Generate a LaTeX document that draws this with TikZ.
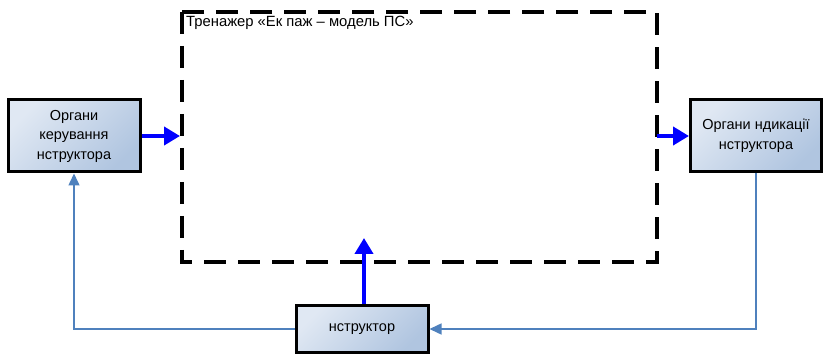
\documentclass[tikz,border=0pt]{standalone}
\usepackage{fontspec}
\setmainfont{Liberation Sans}
\usetikzlibrary{arrows.meta}
\definecolor{boxlight}{HTML}{E0E8F3}
\definecolor{boxdark}{HTML}{B0C5E0}
\definecolor{thinblue}{HTML}{4F81BD}
\tikzset{
  blk/.style={draw=black, line width=3pt, left color=boxlight, right color=boxdark, shading angle=45, align=center, font=\fontsize{14.5}{19.5}\selectfont, inner sep=0pt},
  bigarrow/.style={draw=blue, line width=4.5pt, -{Triangle[length=16pt,width=18pt]}},
  thinarrow/.style={draw=thinblue, line width=1.5pt, -{Triangle[length=12pt,width=11pt]}},
  frame/.style={draw=black, line width=3.5pt, dash pattern=on 22pt off 12pt}
}
\begin{document}
\begin{tikzpicture}[x=1pt,y=-1pt]
\useasboundingbox (0,0) rectangle (824,355);
\draw[frame] (182,12) rectangle (657,262);
\node[anchor=north west, inner sep=0pt, font=\fontsize{14.8}{16}\selectfont] (title) at (186,16) {Тренажер «Ек паж – модель ПС»};
\node[blk, minimum width=132pt, minimum height=72pt] (left) at (74,136) {Органи\\керування\\нструктора};
\node[blk, minimum width=131pt, minimum height=72pt] (right) at (756,136) {Органи  ндикації\\нструктора};
\node[blk, minimum width=132pt, minimum height=47pt] (bot) at (362,329) {нструктор};
\coordinate (fl) at (180,136);
\coordinate (fr) at (657,136);
\coordinate (fb) at (364,238);
\draw[bigarrow] (left.east) -- (fl);
\draw[bigarrow] (fr) -- (right.west);
\draw[bigarrow] (bot.north -| fb) -- (fb);
\draw[thinarrow] (bot.west) -| (left.south);
\draw[thinarrow] (right.south) |- (bot.east);
\end{tikzpicture}
\end{document}
